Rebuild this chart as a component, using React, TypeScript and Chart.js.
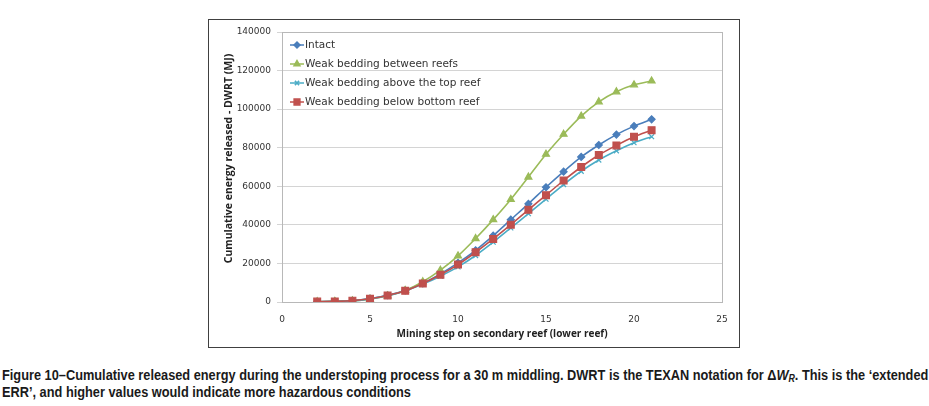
import React, { useEffect, useLayoutEffect, useRef, useState } from "react";
import { Chart, registerables } from "chart.js";
import { drawPoint } from "chart.js/helpers";

Chart.register(...registerables);

const steps = [2, 3, 4, 5, 6, 7, 8, 9, 10, 11, 12, 13, 14, 15, 16, 17, 18, 19, 20, 21];
const intact = [100, 300, 700, 1800, 3500, 6000, 9700, 14600, 20300, 26800, 34400, 42700, 50900, 59500, 67600, 75200, 81400, 86800, 91200, 94700];
const betweenReefs = [100, 300, 600, 1500, 3200, 6000, 10500, 16500, 23900, 32900, 42700, 53200, 64800, 76600, 87000, 96400, 103800, 109000, 112600, 114600];
const aboveTop = [100, 300, 600, 1600, 3300, 5700, 9300, 13400, 18200, 24100, 31000, 38400, 45800, 53300, 60900, 67800, 73600, 78400, 82600, 85700];
const belowBottom = [200, 300, 700, 1700, 3400, 5800, 9600, 14100, 19400, 25800, 32700, 40100, 47800, 55400, 63000, 70000, 76200, 81200, 85700, 89100];

const seriesNames = [
  "Intact",
  "Weak bedding between reefs",
  "Weak bedding above the top reef",
  "Weak bedding below bottom reef",
];
const seriesColors = ["#4A7EBB", "#9BBB59", "#4BACC6", "#C0504D"];
const seriesStyles = ["rectRot", "triangle", "crossRot", "rect"];
const seriesRadius = [3.5, 4, 3.5, 4.8];

const xTitle = "Mining step on secondary reef (lower reef)";
const yTitle = "Cumulative energy released - DWRT (MJ)";
const captionLine2 = "ERR’, and higher values would indicate more hazardous conditions";

const frameAndLegend = {
  id: "frameAndLegend",
  afterDraw(chart: any) {
    const { ctx, chartArea } = chart;
    ctx.save();
    ctx.strokeStyle = "#b8b8b8";
    ctx.lineWidth = 1;
    ctx.strokeRect(
      Math.round(chartArea.left) + 0.5,
      Math.round(chartArea.top) + 0.5,
      Math.round(chartArea.right - chartArea.left),
      Math.round(chartArea.bottom - chartArea.top)
    );
    const x0 = chartArea.left + 8;
    seriesNames.forEach((name, i) => {
      const y = chartArea.top + 13 + 19 * i;
      ctx.strokeStyle = seriesColors[i];
      ctx.fillStyle = seriesColors[i];
      ctx.lineWidth = 1.5;
      ctx.beginPath();
      ctx.moveTo(x0, y);
      ctx.lineTo(x0 + 14, y);
      ctx.stroke();
      drawPoint(
        ctx,
        { pointStyle: seriesStyles[i], radius: seriesRadius[i] * 0.85, rotation: 0, borderWidth: 1.2 },
        x0 + 7,
        y
      );
      ctx.fillStyle = "#333333";
      ctx.font = "10.5px 'DejaVu Sans'";
      ctx.textAlign = "left";
      ctx.textBaseline = "middle";
      ctx.fillText(name, x0 + 15, y);
    });
    // y-axis title, placed as in the reference (slightly above the plot centre)
    ctx.save();
    ctx.translate(20, chartArea.top + (chartArea.bottom - chartArea.top) / 2 - 8.5);
    ctx.rotate(-Math.PI / 2);
    ctx.fillStyle = "#222222";
    ctx.font = "bold 10.5px 'Open Sans'";
    ctx.textAlign = "center";
    ctx.textBaseline = "middle";
    ctx.fillText(yTitle, 0, 0);
    ctx.restore();
    ctx.restore();
  },
};

function App() {
  const canvasRef = useRef<HTMLCanvasElement | null>(null);
  const line1Ref = useRef<HTMLSpanElement | null>(null);
  const [scale, setScale] = useState(1);

  useLayoutEffect(() => {
    if (line1Ref.current) {
      const w = line1Ref.current.offsetWidth;
      if (w > 0) setScale(926 / w);
    }
  }, []);

  useEffect(() => {
    if (!canvasRef.current) return;
    const datasets = [intact, betweenReefs, aboveTop, belowBottom].map((vals, i) => ({
      label: seriesNames[i],
      data: steps.map((s, k) => ({ x: s, y: vals[k] })),
      borderColor: seriesColors[i],
      backgroundColor: seriesColors[i],
      pointBorderColor: seriesColors[i],
      pointBackgroundColor: seriesColors[i],
      pointStyle: seriesStyles[i] as any,
      pointRadius: seriesRadius[i],
      pointBorderWidth: 1.2,
      borderWidth: 1.6,
      tension: 0.25,
      order: 3 - i,
    }));
    const chart = new Chart(canvasRef.current, {
      type: "line",
      data: { datasets },
      options: {
        animation: false,
        responsive: false,
        maintainAspectRatio: false,
        devicePixelRatio: 1,
        layout: { padding: { left: 0, top: 12, right: 17, bottom: 0 } },
        plugins: { legend: { display: false }, tooltip: { enabled: false } },
        scales: {
          x: {
            type: "linear",
            min: 0,
            max: 25,
            afterFit: (s: any) => {
              s.height = 45;
            },
            grid: { display: false },
            border: { display: true, color: "#b8b8b8" },
            ticks: {
              stepSize: 5,
              padding: 4,
              color: "#333333",
              font: { family: "'DejaVu Sans'", size: 9 },
            },
            title: {
              display: true,
              text: xTitle,
              color: "#222222",
              font: { family: "'Open Sans'", size: 10, weight: "bold" },
              padding: { top: 0, bottom: 7 },
            },
          },
          y: {
            type: "linear",
            min: 0,
            max: 140000,
            afterFit: (s: any) => {
              s.width = 73;
            },
            grid: { color: "#d4d4d4", tickLength: 5, drawTicks: true },
            border: { display: true, color: "#b8b8b8" },
            ticks: {
              stepSize: 20000,
              padding: 6,
              color: "#333333",
              font: { family: "'DejaVu Sans'", size: 9 },
              callback: (v: any) => String(v),
            },
            title: { display: false, text: yTitle },
          },
        },
      },
      plugins: [frameAndLegend],
    });
    return () => chart.destroy();
  }, []);

  return (
    <div style={{ position: "absolute", left: 0, top: 0, width: 929, height: 406, background: "#ffffff", overflow: "hidden" }}>
      <div
        style={{
          position: "absolute",
          left: 208,
          top: 19,
          width: 530,
          height: 327,
          border: "1.5px solid #404040",
        }}
      >
        <canvas ref={canvasRef} width={530} height={327} style={{ display: "block", width: 530, height: 327 }} />
      </div>
      <div
        style={{
          position: "absolute",
          left: 2,
          top: 367,
          fontFamily: "'Liberation Sans', Arial, sans-serif",
          fontSize: 14.5,
          fontWeight: "bold",
          lineHeight: "17px",
          color: "#1a1a1a",
          whiteSpace: "nowrap",
          transform: `scaleX(${scale})`,
          transformOrigin: "0 0",
        }}
      >
        <div>
          <span ref={line1Ref}>
            Figure 10–Cumulative released energy during the understoping process for a 30 m middling. DWRT is the TEXAN notation for Δ<i>W</i>
            <sub style={{ fontSize: 10, verticalAlign: "-2px", lineHeight: 0 }}>
              <i>R</i>
            </sub>
            . This is the ‘extended
          </span>
        </div>
        <div>{captionLine2}</div>
      </div>
    </div>
  );
}

export default App;
